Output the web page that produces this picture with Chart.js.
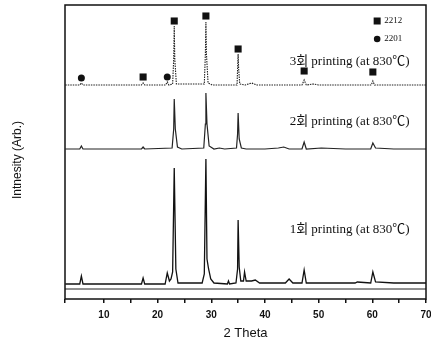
<!DOCTYPE html>
<html>
<head>
<meta charset="utf-8">
<script src="https://cdn.jsdelivr.net/npm/chart.js@4.4.1/dist/chart.umd.min.js"></script>
<style>
  html, body { margin: 0; padding: 0; background: #fff; }
  #wrap { width: 431px; height: 345px; }
</style>
</head>
<body>
<div id="wrap"><canvas id="xrd" width="431" height="345"></canvas></div>
<script>
// [2 theta, intensity], traces already stacked
const printing1 = [
  [2.8, 15], [5.5, 15], [5.8, 23], [6.1, 15], [10, 15], [17.0, 15], [17.3, 21], [17.6, 15],
  [21.4, 15], [21.8, 26], [22.2, 18], [22.5, 20], [22.8, 27], [23.1, 131], [23.4, 30], [23.8, 16],
  [28.3, 16], [28.7, 25], [29.0, 140], [29.2, 40], [29.5, 30], [29.9, 20], [30.5, 16],
  [33.0, 15], [33.2, 18], [33.4, 15], [34.6, 16], [34.9, 30], [35.0, 79], [35.2, 32], [35.5, 18],
  [36.0, 18], [36.2, 27], [36.5, 18], [37.5, 18], [38.2, 19], [39.0, 16], [43.8, 16], [44.5, 20],
  [45.2, 16], [46.9, 16], [47.3, 29], [47.7, 16], [50.5, 16], [56.8, 16], [57.2, 17], [59.7, 16],
  [60.1, 27], [60.6, 17], [64.0, 16], [70, 16]
];
const printing2 = [
  [2.8, 150], [5.5, 150], [5.8, 153], [6.1, 150], [17.0, 150], [17.3, 152], [17.6, 150],
  [22.7, 151], [23.0, 170], [23.1, 200], [23.3, 170], [23.7, 152], [24.5, 150],
  [28.6, 151], [28.9, 175], [29.0, 206], [29.2, 175], [29.6, 153], [30.5, 150], [31.5, 151],
  [32.5, 150], [34.7, 151], [34.9, 165], [35.0, 186], [35.2, 160], [35.6, 151], [36.5, 150],
  [40.0, 150], [42.5, 151], [43.5, 152], [44.5, 150], [46.9, 150], [47.3, 157], [47.7, 150],
  [50.5, 151], [55.0, 150], [59.7, 150], [60.1, 156], [60.6, 151], [64.0, 150], [70, 150]
];
const printing3 = [
  [2.8, 214], [5.5, 214], [5.8, 216], [6.1, 214], [17.0, 214], [17.3, 216], [17.6, 214],
  [21.5, 214], [21.8, 217], [22.1, 214], [22.8, 215], [23.0, 240], [23.1, 273], [23.2, 240],
  [23.5, 215], [28.7, 215], [28.9, 245], [29.0, 277], [29.1, 245], [29.4, 216], [30.2, 214],
  [34.8, 214], [34.9, 230], [35.0, 245], [35.1, 230], [35.3, 215], [36.3, 214], [37.5, 216],
  [38.5, 214], [46.9, 214], [47.3, 219], [47.7, 214], [49.0, 215], [50.0, 214], [59.8, 214],
  [60.1, 218], [60.4, 214], [70, 214]
];
const zeroLine = [[2.75, 10], [70, 10]];

const peaks2212 = [[17.3, 222], [23.1, 278], [29.0, 283], [35.0, 250], [47.3, 228], [60.1, 227]];
const peaks2201 = [[5.8, 221], [21.8, 222]];

const traceLabels = ["1회 printing (at 830℃)", "2회 printing (at 830℃)", "3회 printing (at 830℃)"];
const labelLevels = [69, 177, 237];
const phaseNames = ["2212", "2201"];

const toXY = arr => arr.map(p => ({ x: p[0], y: p[1] }));

const decorations = {
  id: "decorations",
  afterDraw(chart) {
    const { ctx, chartArea, scales } = chart;
    const xs = scales.x, ys = scales.y;
    ctx.save();
    // frame
    ctx.strokeStyle = "#111";
    ctx.lineWidth = 1.5;
    ctx.strokeRect(chartArea.left, chartArea.top, chartArea.right - chartArea.left, chartArea.bottom - chartArea.top);

    // trace labels
    ctx.fillStyle = "#111";
    ctx.font = '13px "Liberation Serif", "Noto Sans CJK KR", serif';
    ctx.textBaseline = "middle";
    ctx.textAlign = "left";
    traceLabels.forEach((t, i) => {
      ctx.fillText(t, xs.getPixelForValue(44.6), ys.getPixelForValue(labelLevels[i]));
    });

    // phase legend
    const lx = xs.getPixelForValue(60.9);
    const ly1 = ys.getPixelForValue(278);
    const ly2 = ys.getPixelForValue(260);
    ctx.fillRect(lx - 3.5, ly1 - 3.5, 7, 7);
    ctx.beginPath();
    ctx.arc(lx, ly2, 3.3, 0, Math.PI * 2);
    ctx.fill();
    ctx.font = '9px "Liberation Serif", serif';
    ctx.fillText(phaseNames[0], lx + 7, ly1);
    ctx.fillText(phaseNames[1], lx + 7, ly2);

    // y title
    ctx.font = '12px "Liberation Sans", Arial, sans-serif';
    ctx.textAlign = "center";
    ctx.translate(18, 160);
    ctx.rotate(-Math.PI / 2);
    ctx.fillText("Intnesity (Arb.)", 0, 0);
    ctx.restore();
  }
};

new Chart(document.getElementById("xrd"), {
  type: "scatter",
  data: {
    datasets: [
      { data: toXY(peaks2212), pointStyle: "rect", pointRadius: 5, backgroundColor: "#111", borderWidth: 0, showLine: false },
      { data: toXY(peaks2201), pointStyle: "circle", pointRadius: 3.5, backgroundColor: "#111", borderWidth: 0, showLine: false },
      { data: toXY(printing3), showLine: true, borderColor: "#222", borderWidth: 1.1, borderDash: [1.5, 1], pointRadius: 0, tension: 0 },
      { data: toXY(printing2), showLine: true, borderColor: "#222", borderWidth: 1.2, pointRadius: 0, tension: 0 },
      { data: toXY(printing1), showLine: true, borderColor: "#111", borderWidth: 1.3, pointRadius: 0, tension: 0 },
      { data: toXY(zeroLine), showLine: true, borderColor: "#222", borderWidth: 1, pointRadius: 0 }
    ]
  },
  options: {
    responsive: false,
    animation: false,
    layout: { padding: { top: 5, right: 4, left: 0, bottom: 0 } },
    plugins: { legend: { display: false }, tooltip: { enabled: false } },
    scales: {
      x: {
        type: "linear",
        min: 2.75,
        max: 70,
        border: { display: false },
        grid: { display: true, drawOnChartArea: false, drawTicks: true, tickLength: 4, lineWidth: 1.5, color: "#111" },
        ticks: {
          stepSize: 5,
          autoSkip: false,
          maxRotation: 0,
          padding: 6,
          color: "#111",
          font: { family: '"Liberation Sans", Arial, sans-serif', size: 10, weight: "bold" },
          callback: v => (v % 10 === 0 ? v : "")
        },
        title: {
          display: true,
          text: "2 Theta",
          color: "#111",
          padding: { top: 2, bottom: 4 },
          font: { family: '"Liberation Sans", Arial, sans-serif', size: 13 }
        },
        afterFit(scale) {
          scale.height = 46;
          scale.paddingLeft = 0;
          scale.paddingRight = 0;
        }
      },
      y: {
        min: 0,
        max: 294,
        border: { display: false },
        grid: { display: false },
        ticks: { display: false },
        afterFit(scale) {
          scale.width = 65;
        }
      }
    }
  },
  plugins: [decorations]
});
</script>
</body>
</html>
